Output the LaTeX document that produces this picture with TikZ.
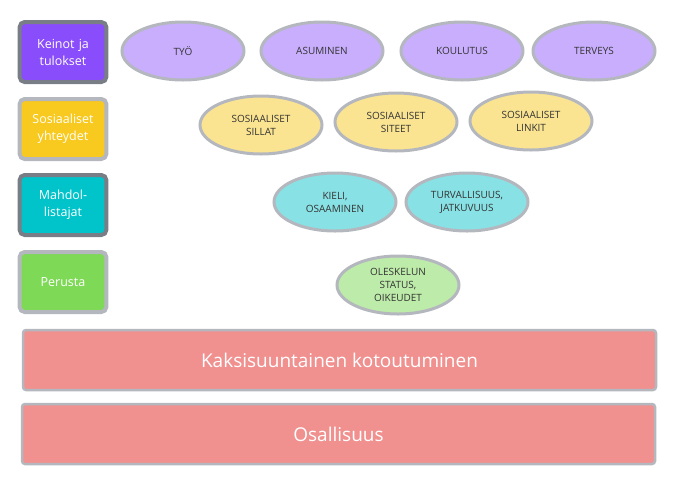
\documentclass[tikz,border=0pt]{standalone}
\usepackage{fontspec}
\setmainfont{Open Sans}
\usetikzlibrary{shapes.geometric, positioning}
\definecolor{keino}{HTML}{8A4DFB}
\definecolor{keinolt}{HTML}{C8AEFD}
\definecolor{sos}{HTML}{F8C91E}
\definecolor{soslt}{HTML}{FAE491}
\definecolor{mahd}{HTML}{00C4CA}
\definecolor{mahdlt}{HTML}{88E1E4}
\definecolor{per}{HTML}{7ED957}
\definecolor{perlt}{HTML}{BDEBA9}
\definecolor{bar}{HTML}{F09190}
\definecolor{edgedk}{HTML}{787D86}
\definecolor{edgelt}{HTML}{B4B8BE}
\definecolor{txt}{HTML}{333333}
\tikzstyle{level} = [rectangle, rounded corners=5pt, minimum width=82pt, minimum height=60pt, text width=80pt, align=center, line width=4pt, text=white, font=\fontsize{12.5}{17}\selectfont]
\tikzstyle{item} = [ellipse, minimum width=122pt, minimum height=58pt, inner sep=1pt, align=center, line width=3pt, draw=edgelt, text=txt, font=\fontsize{10}{13}\selectfont]
\tikzstyle{base} = [rectangle, rounded corners=3pt, minimum width=633pt, minimum height=60pt, fill=bar, draw=edgelt, line width=2.5pt, text=white, font=\fontsize{19}{23}\selectfont]

\begin{document}
\begin{tikzpicture}[x=1pt, y=-1pt]
\useasboundingbox (0,0) rectangle (690,480);

% Levels
\node (keinot) [level, fill=keino, draw=edgedk] at (63,52) {Keinot ja\\tulokset};
\node (sosyht) [level, fill=sos, draw=edgelt] at (63,129) {Sosiaaliset\\yhteydet};
\node (mahdol) [level, fill=mahd, draw=edgedk] at (63,205) {Mahdol-\\listajat};
\node (perusta) [level, fill=per, draw=edgelt] at (63,282) {Perusta};

% Items
\node (tyo) [item, fill=keinolt] at (183,51) {TYÖ};
\node (asuminen) [item, fill=keinolt] at (322,51) {ASUMINEN};
\node (koulutus) [item, fill=keinolt] at (462,51) {KOULUTUS};
\node (terveys) [item, fill=keinolt] at (594,51) {TERVEYS};
\node (sillat) [item, fill=soslt] at (261,125) {SOSIAALISET\\SILLAT};
\node (siteet) [item, fill=soslt] at (396,122) {SOSIAALISET\\SITEET};
\node (linkit) [item, fill=soslt] at (531,121) {SOSIAALISET\\LINKIT};
\node (kieli) [item, fill=mahdlt] at (335,202) {KIELI,\\OSAAMINEN};
\node (turva) [item, fill=mahdlt] at (467,202) {TURVALLISUUS,\\JATKUVUUS};
\node (status) [item, fill=perlt] at (398,285) {OLESKELUN\\STATUS,\\OIKEUDET};

% Bars
\node (kotout) [base] at (339.5,360) {Kaksisuuntainen kotoutuminen};
\node (osall) [base] at (338.5,434) {Osallisuus};

\end{tikzpicture}
\end{document}
